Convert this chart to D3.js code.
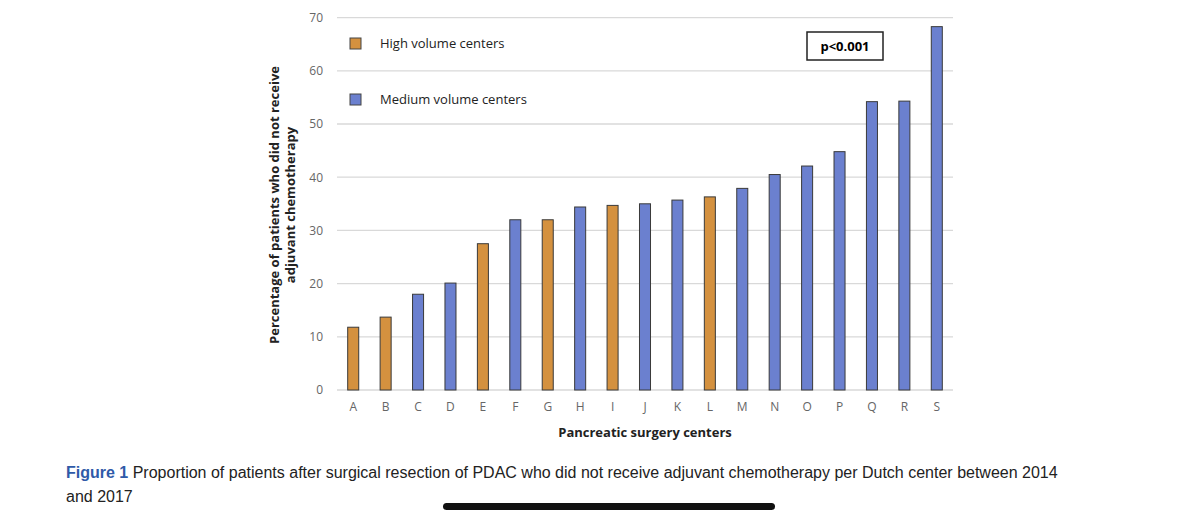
<!DOCTYPE html>
<html><head><meta charset="utf-8">
<script src="https://cdn.jsdelivr.net/npm/d3@7"></script>
<style>body{margin:0;background:#fff;}svg{display:block;}</style>
</head><body>
<svg id="c" width="1200" height="519"></svg>
<script>
const categories = ["A","B","C","D","E","F","G","H","I","J","K","L","M","N","O","P","Q","R","S"];
const values = [11.8,13.7,18,20.1,27.5,32,32,34.4,34.7,35,35.7,36.3,37.9,40.5,42.1,44.8,54.2,54.3,68.3];
const groups = ["H","H","M","M","H","M","H","M","H","M","M","H","M","M","M","M","M","M","M"];
const yTicks = [0,10,20,30,40,50,60,70];
const legendLabels = ["High volume centers","Medium volume centers"];
const colors = {H:"#d4913f", M:"#6b80cf"};

const svg = d3.select("#c");
const x = d3.scaleBand().domain(categories).range([337,953]).paddingInner(0.66).paddingOuter(0.33);
const y = d3.scaleLinear().domain([0,70]).range([390,17.6]);

svg.append("g").selectAll("line").data(yTicks).join("line")
  .attr("x1",337).attr("x2",953).attr("y1",d=>y(d)).attr("y2",d=>y(d))
  .attr("stroke","#d9d9d9").attr("stroke-width",1.3);

const ya = svg.append("g").attr("transform","translate(337,0)")
  .call(d3.axisLeft(y).tickValues(yTicks).tickSize(0).tickPadding(14));
ya.select(".domain").remove();
ya.selectAll("text").attr("font-family","Open Sans").attr("font-size",12).attr("fill","#666");

const xa = svg.append("g").attr("transform","translate(0,390)")
  .call(d3.axisBottom(x).tickSize(0).tickPadding(12));
xa.select(".domain").remove();
xa.selectAll("text").attr("font-family","Open Sans").attr("font-size",12).attr("fill","#666");

svg.append("g").selectAll("rect").data(categories).join("rect")
  .attr("x",d=>x(d)).attr("width",x.bandwidth())
  .attr("y",(d,i)=>y(values[i])).attr("height",(d,i)=>y(0)-y(values[i]))
  .attr("fill",(d,i)=>colors[groups[i]]).attr("stroke","#3a3a3a").attr("stroke-width",1);

// legend
[["H",44],["M",100]].forEach(([g,yy],i)=>{
  svg.append("rect").attr("x",350).attr("y",yy-6).attr("width",11).attr("height",11)
    .attr("fill",colors[g]).attr("stroke","#444");
  svg.append("text").attr("x",380).attr("y",yy+4).text(legendLabels[i])
    .attr("font-family","Open Sans").attr("font-size",13).attr("fill","#222");
});
svg.append("rect").attr("x",807).attr("y",32).attr("width",76).attr("height",28)
  .attr("fill","#fff").attr("stroke","#222").attr("stroke-width",1.5);
svg.append("text").attr("x",845).attr("y",51).attr("text-anchor","middle").text("p<0.001")
  .attr("font-family","Open Sans").attr("font-weight","bold").attr("font-size",13);

svg.append("text").attr("x",645).attr("y",437).attr("text-anchor","middle")
  .text("Pancreatic surgery centers").attr("font-family","Open Sans").attr("font-weight","bold").attr("font-size",13).attr("fill","#222");
const yl = svg.append("text").attr("transform","translate(279,205) rotate(-90)")
  .attr("text-anchor","middle").attr("font-family","Open Sans").attr("font-weight","bold").attr("font-size",13).attr("fill","#222");
yl.append("tspan").attr("x",0).attr("dy",0).text("Percentage of patients who did not receive");
yl.append("tspan").attr("x",0).attr("dy",16).text("adjuvant chemotherapy");

const cap = svg.append("text").attr("font-family","Liberation Sans, Arial").attr("font-size",16).attr("fill","#222");
cap.append("tspan").attr("x",66).attr("y",478).attr("fill","#2f5aa8").attr("font-weight","bold").text("Figure 1 ");
cap.append("tspan").text("Proportion of patients after surgical resection of PDAC who did not receive adjuvant chemotherapy per Dutch center between 2014");
svg.append("text").attr("x",66).attr("y",502).attr("font-family","Liberation Sans, Arial").attr("font-size",16).attr("fill","#222").text("and 2017");
svg.append("rect").attr("x",443).attr("y",503).attr("width",332).attr("height",7).attr("rx",3.5).attr("fill","#111");
</script>
</body></html>
